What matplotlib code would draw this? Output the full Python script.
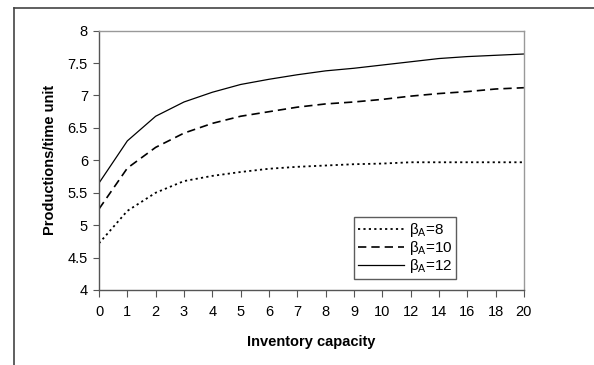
import matplotlib
matplotlib.use("Agg")
import matplotlib.pyplot as plt
from matplotlib import font_manager
from matplotlib.lines import Line2D

x_labels = ["0", "1", "2", "3", "4", "5", "6", "7", "8", "9", "10", "12", "14", "16", "18", "20"]
beta8 = [4.72, 5.22, 5.50, 5.68, 5.76, 5.82, 5.87, 5.90, 5.92, 5.94, 5.95, 5.97, 5.97, 5.97, 5.97, 5.97]
beta10 = [5.25, 5.88, 6.20, 6.42, 6.57, 6.68, 6.75, 6.82, 6.87, 6.90, 6.94, 6.99, 7.03, 7.06, 7.10, 7.12]
beta12 = [5.65, 6.30, 6.68, 6.90, 7.05, 7.17, 7.25, 7.32, 7.38, 7.42, 7.47, 7.52, 7.57, 7.60, 7.62, 7.64]
series_labels = [r"$\mathregular{\beta_A}$=8", r"$\mathregular{\beta_A}$=10", r"$\mathregular{\beta_A}$=12"]

names = {f.name for f in font_manager.fontManager.ttflist}
fam = "Liberation Sans Narrow" if "Liberation Sans Narrow" in names else "Liberation Sans"
plt.rcParams["font.family"] = [fam, "DejaVu Sans"]
plt.rcParams["mathtext.fontset"] = "custom"
plt.rcParams["mathtext.rm"] = fam
plt.rcParams["mathtext.it"] = fam

fig = plt.figure(figsize=(5.94, 3.65), dpi=100)
ax = fig.add_axes([0.1667, 0.2055, 0.882 - 0.1667, 0.916 - 0.2055])

xs = list(range(len(x_labels)))
ax.plot(xs, beta8, color="black", lw=1.3, linestyle=(0, (1.2, 1.8)))
ax.plot(xs, beta10, color="black", lw=1.2, linestyle=(0, (5, 3)))
ax.plot(xs, beta12, color="black", lw=0.9, linestyle="-")

ax.set_xlim(0, len(x_labels) - 1)
ax.set_ylim(4, 8)
ax.set_xticks(xs)
ax.set_xticklabels(x_labels)
ax.set_yticks([4, 4.5, 5, 5.5, 6, 6.5, 7, 7.5, 8])
ax.set_yticklabels(["4", "4.5", "5", "5.5", "6", "6.5", "7", "7.5", "8"])
ax.tick_params(axis="x", direction="out", length=5, width=0.8, color="#555555", labelsize=10.5, pad=6)
ax.tick_params(axis="y", direction="out", length=4, width=0.8, color="#555555", labelsize=10.5, pad=4)
for s in ["left", "bottom"]:
    ax.spines[s].set_color("#555555")
    ax.spines[s].set_linewidth(1.0)
for s in ["top", "right"]:
    ax.spines[s].set_color("#999999")
    ax.spines[s].set_linewidth(1.0)

ax.set_xlabel("Inventory capacity", fontsize=10.5, fontweight="bold", labelpad=11)
ax.set_ylabel("Productions/time unit", fontsize=10.5, fontweight="bold", labelpad=8)

handles = [
    Line2D([], [], color="black", lw=1.3, linestyle=(0, (1.2, 1.8))),
    Line2D([], [], color="black", lw=1.2, linestyle=(0, (5, 3))),
    Line2D([], [], color="black", lw=0.9, linestyle="-"),
]
leg = ax.legend(handles, series_labels, loc="lower left", bbox_to_anchor=(0.60, 0.042),
                frameon=True, fancybox=False, fontsize=11, handlelength=3.0,
                handletextpad=0.35, labelspacing=0.0, borderpad=0.25, borderaxespad=0)
leg.get_frame().set_edgecolor("#333333")
leg.get_frame().set_linewidth(1.0)

# outer chart border (top and left lines)
fig.add_artist(Line2D([14 / 594, 1.0], [1 - 7.7 / 365, 1 - 7.7 / 365], color="#444444", lw=1.2,
                      transform=fig.transFigure))
fig.add_artist(Line2D([14 / 594, 14 / 594], [0, 1 - 7.7 / 365], color="#444444", lw=1.2,
                      transform=fig.transFigure))

fig.savefig("out.png", dpi=100)
